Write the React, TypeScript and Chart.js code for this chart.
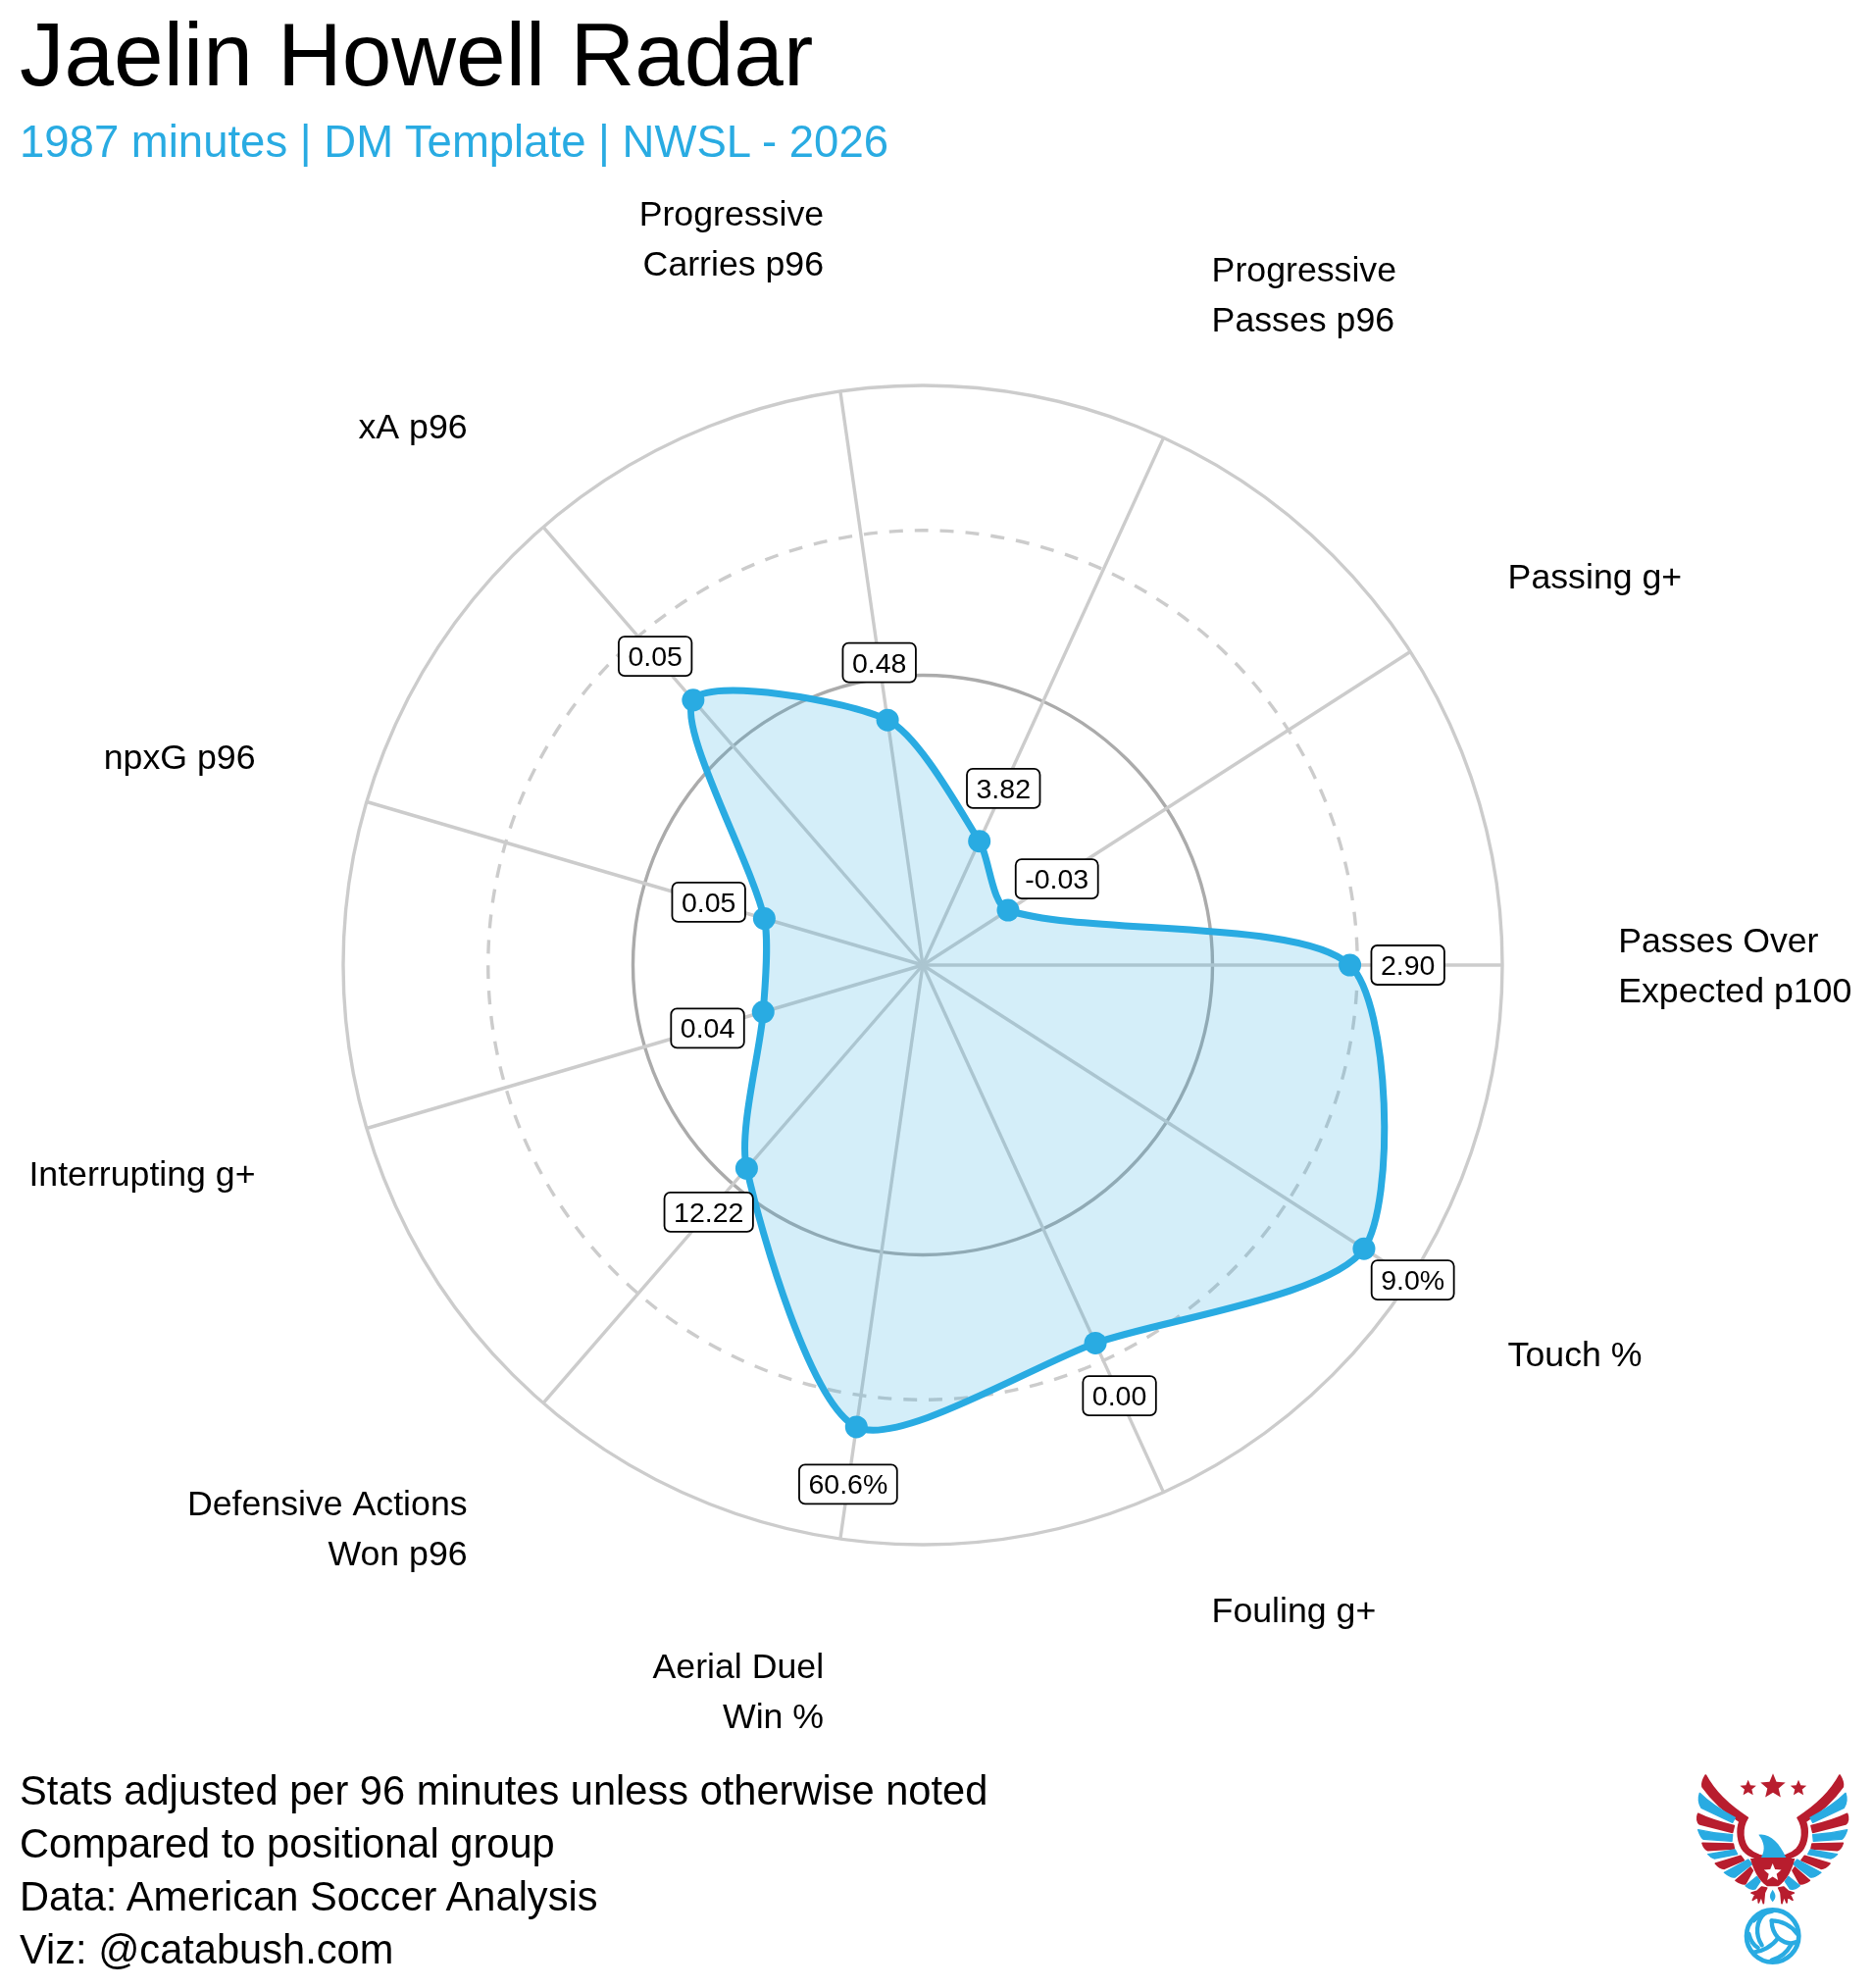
import React, { useEffect, useRef } from "react";
import { Chart, registerables } from "chart.js";

Chart.register(...registerables);

const playerTitle = "Jaelin Howell Radar";
const subtitle = "1987 minutes | DM Template | NWSL - 2026";
const footerLines = [
  "Stats adjusted per 96 minutes unless otherwise noted",
  "Compared to positional group",
  "Data: American Soccer Analysis",
  "Viz: @catabush.com",
];
const categories = [
  ["Passes Over", "Expected p100"],
  ["Touch %"],
  ["Fouling g+"],
  ["Aerial Duel", "Win %"],
  ["Defensive Actions", "Won p96"],
  ["Interrupting g+"],
  ["npxG p96"],
  ["xA p96"],
  ["Progressive", "Carries p96"],
  ["Progressive", "Passes p96"],
  ["Passing g+"],
];
const percentiles = [73.7, 90.5, 71.7, 80.5, 46.4, 28.7, 28.5, 60.5, 42.7, 23.5, 17.5];
const valueLabels = ["2.90", "9.0%", "0.00", "60.6%", "12.22", "0.04", "0.05", "0.05", "0.48", "3.82", "-0.03"];
const ringTicks = [25, 50, 75, 100];

const BLUE = "#29ABE2";
const RED = "#B81D2E";
const FONT = '"Liberation Sans", Arial, sans-serif';

const textPlugin = {
  id: "radarText",
  afterDatasetsDraw(chart: any) {
    const { ctx } = chart;
    const r = chart.scales.r;
    const labels = chart.data.labels as string[][];
    const values = chart.data.datasets[0].data as number[];
    ctx.save();
    ctx.fillStyle = "#000";
    // axis category labels
    ctx.font = `35.7px ${FONT}`;
    ctx.textBaseline = "middle";
    labels.forEach((lines, i) => {
      const p = r.getPointPosition(i, r.getDistanceFromCenterForValue(120));
      const dy = p.y - r.yCenter;
      const dx = p.x - r.xCenter;
      ctx.textAlign = dx >= 0 ? "left" : "right";
      const gap = 51;
      const half = 13;
      lines.forEach((line, k) => {
        let y: number;
        if (Math.abs(dy) < 1) y = p.y + (k - (lines.length - 1) / 2) * gap;
        else if (dy < 0) y = p.y - half - (lines.length - 1 - k) * gap;
        else y = p.y + half + k * gap;
        ctx.fillText(line, p.x, y + 2.5);
      });
    });
    // value boxes
    ctx.font = `28.5px ${FONT}`;
    ctx.textAlign = "center";
    valueLabels.forEach((text, i) => {
      const p = r.getPointPosition(i, r.getDistanceFromCenterForValue(values[i] + 10));
      const w = ctx.measureText(text).width + 19;
      const h = 40;
      ctx.beginPath();
      ctx.roundRect(p.x - w / 2, p.y - h / 2, w, h, 6);
      ctx.fillStyle = "#fff";
      ctx.fill();
      ctx.lineWidth = 1.8;
      ctx.strokeStyle = "#000";
      ctx.stroke();
      ctx.fillStyle = "#000";
      ctx.fillText(text, p.x, p.y + 2);
    });
    ctx.restore();
  },
};

function star(cx: number, cy: number, R: number) {
  const pts: string[] = [];
  for (let i = 0; i < 10; i++) {
    const a = -Math.PI / 2 + (i * Math.PI) / 5;
    const rad = i % 2 === 0 ? R : R * 0.45;
    pts.push(`${cx + rad * Math.cos(a)},${cy + rad * Math.sin(a)}`);
  }
  return pts.join(" ");
}

const wingRed = [
  "M268,180 C262,190 255,200 258,215 C290,260 330,295 372,322 C362,345 365,390 385,412 C400,430 425,440 473,440 L473,430 C440,430 415,420 400,405 C382,385 375,345 397,310 C350,280 300,240 268,180 Z",
  "M245,298 C240,310 242,325 250,330 L350,355 L355,335 C315,325 275,313 245,298 Z",
  "M258,388 C262,400 268,408 275,410 L355,405 L352,390 Z",
  "M298,450 C308,462 318,466 325,466 L385,440 L375,427 Z",
  "M360,502 C375,512 385,514 390,512 L412,472 L405,462 Z",
  "M425,535 L440,522 L455,525 L448,540 L445,572 L438,550 L430,570 L428,552 L412,562 L420,545 L408,540 Z",
];
const wingBlue = [
  "M250,235 C245,250 245,265 255,280 L350,325 L358,310 C320,290 280,265 250,235 Z",
  "M245,347 C250,362 255,372 262,376 L348,382 L350,362 C315,360 280,355 245,347 Z",
  "M275,422 C282,430 288,434 295,435 L365,422 L358,408 Z",
  "M325,478 C340,490 350,494 358,492 L410,452 L398,438 Z",
  "M390,518 C405,530 415,530 420,528 L435,505 L425,490 Z",
];

function Logo() {
  const wing = (
    <>
      {wingRed.map((d, i) => <path key={"r" + i} d={d} fill={RED} stroke={RED} strokeWidth={5} strokeLinejoin="round" />)}
      {wingBlue.map((d, i) => <path key={"b" + i} d={d} fill={BLUE} stroke={BLUE} strokeWidth={4} strokeLinejoin="round" />)}
    </>
  );
  return (
    <svg
      width={260}
      height={277}
      viewBox="0 0 780 831"
      style={{ position: "absolute", left: 1650, top: 1750, filter: "blur(0.5px)" }}
    >
      {wing}
      <g transform="translate(946,0) scale(-1,1)">{wing}</g>
      <polygon points={star(398, 220, 26)} fill={RED} />
      <polygon points={star(474, 215, 40)} fill={RED} />
      <polygon points={star(552, 220, 26)} fill={RED} />
      <path d="M430,362 C462,356 494,385 514,432 L438,432 C452,405 447,385 430,362 Z" fill={BLUE} />
      <path d="M405,435 L541,435 C532,470 518,500 490,520 L456,520 C428,500 414,470 405,435 Z" fill={RED} />
      <polygon points={star(473, 478, 28)} fill="#fff" />
      <path d="M473,530 C482,545 486,552 473,568 C460,552 464,545 473,530 Z" fill={BLUE} />
      <circle cx={473} cy={672} r={80} fill="#fff" stroke={BLUE} strokeWidth={14} />
      <g fill="none" stroke={BLUE} strokeWidth={13} strokeLinecap="round">
        <path d="M415,625 C430,610 450,600 472,596" />
        <path d="M452,600 C420,625 420,670 440,700" />
        <path d="M470,625 C500,625 530,640 548,665" />
        <path d="M470,625 C470,650 478,665 490,678" />
        <path d="M490,678 C470,705 440,720 415,722" />
        <path d="M490,678 C505,690 525,700 546,690" />
        <path d="M530,698 C515,725 495,740 470,746" />
        <path d="M400,665 C405,685 415,700 428,708" />
      </g>
    </svg>
  );
}

function Txt({ text, x, baseline, size, color }: { text: string; x: number; baseline: number; size: number; color: string }) {
  // Liberation Sans: ascent 0.905, descent 0.212, so with line-height 1.117 the baseline sits at top + 0.905em
  return (
    <div
      style={{
        position: "absolute",
        left: x,
        top: baseline - 0.905 * size,
        fontFamily: FONT,
        fontSize: size,
        lineHeight: 1.117,
        color,
        whiteSpace: "nowrap",
      }}
    >
      {text}
    </div>
  );
}

export default function App() {
  const ref = useRef<HTMLCanvasElement>(null);
  useEffect(() => {
    const chart = new Chart(ref.current as HTMLCanvasElement, {
      type: "radar",
      data: {
        labels: categories as any,
        datasets: [
          {
            data: percentiles,
            borderColor: BLUE,
            backgroundColor: "rgba(41,171,226,0.2)",
            borderWidth: 7,
            fill: true,
            tension: 0.25,
            pointRadius: 11.5,
            pointBackgroundColor: BLUE,
            pointBorderColor: BLUE,
            pointBorderWidth: 0,
            pointHoverRadius: 11.5,
          },
        ],
      },
      plugins: [textPlugin as any],
      options: {
        animation: false,
        responsive: false,
        devicePixelRatio: 1,
        layout: { padding: { left: 350, right: 378, top: 393, bottom: 452 } },
        plugins: { legend: { display: false }, tooltip: { enabled: false }, title: { display: false } },
        scales: {
          r: {
            min: 0,
            max: 100,
            startAngle: 90,
            afterBuildTicks: (s: any) => {
              s.ticks = ringTicks.map((value) => ({ value }));
            },
            ticks: { display: false, stepSize: 25 },
            pointLabels: { display: false },
            angleLines: { display: true, color: "#CCCCCC", lineWidth: 3.4 },
            grid: {
              circular: true,
              color: (c: any) => (c.tick && c.tick.value === 50 ? "#ABABAB" : "#CCCCCC"),
              lineWidth: 3.4,
            },
            border: {
              dash: (c: any) => (c.tick && (c.tick.value === 25 || c.tick.value === 75) ? [14, 12] : []),
            },
          } as any,
        },
      },
    } as any);
    return () => chart.destroy();
  }, []);
  return (
    <div style={{ position: "absolute", left: 0, top: 0, width: 1910, height: 2027, overflow: "hidden", background: "#fff" }}>
      <canvas ref={ref} width={1910} height={2027} style={{ position: "absolute", left: 0, top: 0, display: "block" }} />
      <Txt text={playerTitle} x={20} baseline={87} size={91} color="#000" />
      <Txt text={subtitle} x={20} baseline={161} size={45.5} color={BLUE} />
      {footerLines.map((t, i) => (
        <Txt key={t} text={t} x={20} baseline={1840.5 + i * 54} size={41.6} color="#000" />
      ))}
      <Logo />
    </div>
  );
}
